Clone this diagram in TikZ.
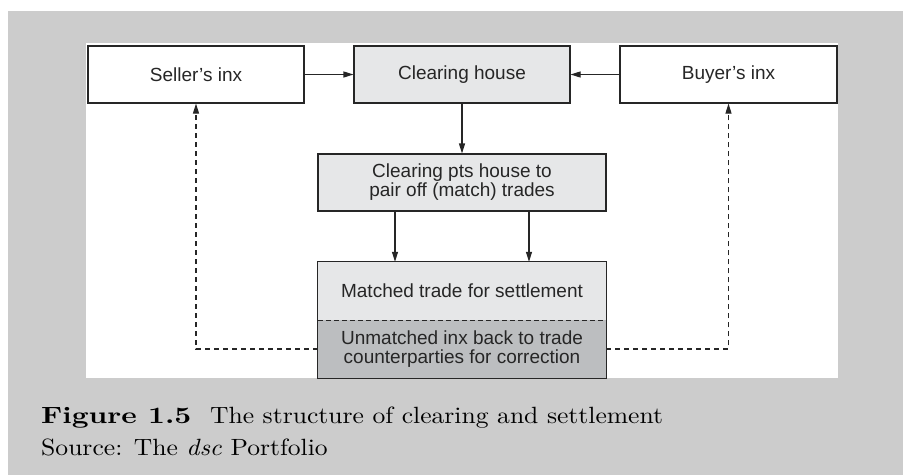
\documentclass[tikz,border=0pt]{standalone}
\usepackage{fontspec}
\newfontfamily\diagfont{Liberation Sans}
\newfontfamily\capfont{lmroman10-regular.otf}[
  BoldFont=lmroman10-bold.otf,
  ItalicFont=lmroman10-italic.otf,
  FakeStretch=1.09,
  BoldFeatures={FakeStretch=1.25}]
\usetikzlibrary{arrows.meta,calc}

\definecolor{pagegrey}{HTML}{CCCCCC}
\definecolor{boxlight}{HTML}{E6E7E8}
\definecolor{boxdark}{HTML}{BCBEC0}
\definecolor{inkline}{HTML}{262626}

\tikzset{
  box/.style={draw=inkline, line width=1.1pt, rectangle, inner sep=0pt,
    minimum height=57pt, align=center, text=inkline,
    font=\diagfont\fontsize{19}{19}\selectfont},
  half/.style={rectangle, inner sep=0pt, minimum width=288pt, minimum height=58pt,
    align=center, text=inkline, font=\diagfont\fontsize{19}{19}\selectfont},
  flow/.style={draw=inkline, line width=1.1pt, -{Triangle[length=10pt,width=6pt]}},
  back/.style={flow, dashed, dash pattern=on 5pt off 4pt},
  caption/.style={anchor=base west, inner sep=0pt, text=black,
    font=\capfont\fontsize{23.5}{26}\selectfont}
}

\begin{document}
\begin{tikzpicture}[x=1pt, y=-1pt]
  % page area and the white drawing panel
  \useasboundingbox (0,0) rectangle (903,475);
  \fill[white] (0,0) rectangle (903,475);
  \fill[pagegrey] (8,11) rectangle (903,475);
  \fill[white] (86,43) rectangle (838,378);

  % top row
  \node[box, fill=white, minimum width=216pt] (seller) at (196,74.5) {Seller’s inx};
  \node[box, fill=boxlight, minimum width=216pt] (house) at (462,74.5) {Clearing house};
  \node[box, fill=white, minimum width=217pt] (buyer) at (728.5,74.5) {Buyer’s inx};

  % matching step
  \node[box, fill=boxlight, minimum width=288pt] (pts) at (462,182.5)
    {Clearing pts house to\\pair off (match) trades};

  % outcome box, split in two halves
  \node[half, fill=boxlight] (matched) at (462,291) {Matched trade for settlement};
  \node[half, fill=boxdark] (unmatched) at (462,349)
    {Unmatched inx back to trade\\counterparties for correction};
  \draw[inkline, line width=1.1pt] (matched.north west) rectangle (unmatched.south east);
  \draw[inkline, line width=0.9pt, dashed, dash pattern=on 5pt off 3pt]
    (matched.south west) -- (matched.south east);

  % connectors
  \draw[flow] (seller.east) -- (house.west);
  \draw[flow] (buyer.west) -- (house.east);
  \draw[flow] (house.south) -- (pts.north);
  \draw[flow] ([xshift=-67pt]pts.south) -- ([xshift=-67pt]matched.north);
  \draw[flow] ([xshift=67pt]pts.south) -- ([xshift=67pt]matched.north);
  \draw[back] (unmatched.west) -| (seller.south);
  \draw[back] (unmatched.east) -| (buyer.south);

  % caption
  \node[caption] (cap) at (41,423)
    {\textbf{Figure 1.5}\hspace{0.8em}The structure of clearing and settlement};
  \node[caption] (src) at (41,455) {Source: The \textit{dsc} Portfolio};
\end{tikzpicture}
\end{document}
